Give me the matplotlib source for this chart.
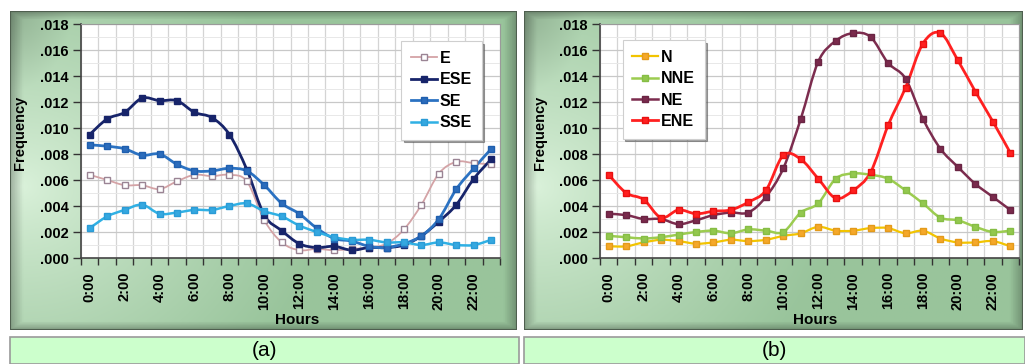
import numpy as np
import matplotlib.pyplot as plt
import matplotlib.patches as patches
from matplotlib.path import Path
from matplotlib.lines import Line2D
from matplotlib.ticker import FuncFormatter, MultipleLocator

plt.rcParams['font.family'] = ['Liberation Sans', 'DejaVu Sans']

hours = np.arange(24)
hour_labels = ['%d:00' % h for h in range(0, 24, 2)]

# panel (a)
e_vals = [0.0064, 0.0060, 0.0056, 0.0056, 0.0053, 0.0059, 0.0064, 0.0063, 0.0064, 0.0059, 0.0029, 0.0012,
          0.0006, 0.0007, 0.0006, 0.0007, 0.0008, 0.0011, 0.0022, 0.0041, 0.0065, 0.0074, 0.0073, 0.0072]
ese_vals = [0.0095, 0.0107, 0.0112, 0.0123, 0.0121, 0.0121, 0.0112, 0.0108, 0.0095, 0.0068, 0.0033, 0.0021,
            0.0011, 0.0008, 0.0009, 0.0006, 0.0008, 0.0008, 0.0010, 0.0017, 0.0028, 0.0041, 0.0061, 0.0076]
se_vals = [0.0087, 0.0086, 0.0084, 0.0079, 0.0080, 0.0072, 0.0067, 0.0067, 0.0069, 0.0067, 0.0056, 0.0042,
           0.0034, 0.0023, 0.0015, 0.0013, 0.0009, 0.0008, 0.0011, 0.0017, 0.0030, 0.0053, 0.0069, 0.0084]
sse_vals = [0.0023, 0.0032, 0.0037, 0.0041, 0.0034, 0.0035, 0.0037, 0.0037, 0.0040, 0.0042, 0.0036, 0.0032,
            0.0025, 0.0020, 0.0016, 0.0014, 0.0014, 0.0012, 0.0012, 0.0010, 0.0012, 0.0010, 0.0010, 0.0014]

# panel (b)
n_vals = [0.0009, 0.0009, 0.0012, 0.0014, 0.0013, 0.0011, 0.0012, 0.0014, 0.0013, 0.0014, 0.0017, 0.0019,
          0.0024, 0.0021, 0.0021, 0.0023, 0.0023, 0.0019, 0.0021, 0.0015, 0.0012, 0.0012, 0.0013, 0.0009]
nne_vals = [0.0017, 0.0016, 0.0015, 0.0016, 0.0018, 0.0020, 0.0021, 0.0019, 0.0022, 0.0021, 0.0020, 0.0035,
            0.0042, 0.0061, 0.0065, 0.0064, 0.0061, 0.0052, 0.0042, 0.0031, 0.0029, 0.0024, 0.0020, 0.0021]
ne_vals = [0.0034, 0.0033, 0.0030, 0.0030, 0.0026, 0.0029, 0.0033, 0.0035, 0.0035, 0.0047, 0.0069, 0.0107,
           0.0151, 0.0167, 0.0173, 0.0170, 0.0150, 0.0138, 0.0107, 0.0084, 0.0070, 0.0057, 0.0047, 0.0037]
ene_vals = [0.0064, 0.0050, 0.0045, 0.0031, 0.0037, 0.0034, 0.0036, 0.0037, 0.0043, 0.0052, 0.0079, 0.0076,
            0.0061, 0.0046, 0.0052, 0.0066, 0.0102, 0.0131, 0.0165, 0.0173, 0.0152, 0.0128, 0.0105, 0.0081]

series_a = [
    ('E', e_vals, '#d4a3a6', '#9a8494', 'white', 1.3),
    ('ESE', ese_vals, '#17246a', '#17246a', '#17246a', 2.0),
    ('SE', se_vals, '#2b72c2', '#1f5fae', '#2b6cbc', 2.0),
    ('SSE', sse_vals, '#2fb0e4', '#2a9bd6', '#35a8e0', 1.8),
]
series_b = [
    ('N', n_vals, '#f2c400', '#e49a1a', '#f5a82a', 1.6),
    ('NNE', nne_vals, '#9ccc50', '#86bd45', '#93c84e', 1.8),
    ('NE', ne_vals, '#7c2c4e', '#6a2443', '#7a2a4c', 1.8),
    ('ENE', ene_vals, '#ff2020', '#e81010', '#ff2020', 2.0),
]

W, H = 1025, 364
fig = plt.figure(figsize=(W / 100, H / 100), dpi=100)


def px(x0, y0, x1, y1):
    return [x0 / W, 1 - y1 / H, (x1 - x0) / W, (y1 - y0) / H]


def smooth_path(x, y):
    # Catmull-Rom style cubic Bezier through every point
    pts = np.column_stack([x, y]).astype(float)
    n = len(pts)
    verts = [pts[0]]
    codes = [Path.MOVETO]
    for i in range(n - 1):
        p0 = pts[max(i - 1, 0)]
        p1 = pts[i]
        p2 = pts[i + 1]
        p3 = pts[min(i + 2, n - 1)]
        c1 = p1 + (p2 - p0) / 6
        c2 = p2 - (p3 - p1) / 6
        verts += [c1, c2, p2]
        codes += [Path.CURVE4] * 3
    return Path(verts, codes)


def frame_background(rect):
    fax = fig.add_axes(rect)
    gx, gy = np.meshgrid(np.linspace(0, 1, 300), np.linspace(0, 1, 200))
    d = np.sqrt(((gx - 0.02) / 0.6) ** 2 + ((gy - 0.55) / 0.8) ** 2)
    t = np.clip(d, 0, 1) ** 0.8
    light = np.array([0.86, 0.95, 0.86])
    dark = np.array([0.60, 0.77, 0.61])
    img = light * (1 - t[..., None]) + dark * t[..., None]
    # darker top-left corner
    corner = np.clip(1 - np.sqrt((gx / 0.12) ** 2 + (gy / 0.25) ** 2), 0, 1)[..., None]
    img = img * (1 - 0.15 * corner)
    # darker rim along the edges
    edge = np.minimum.reduce([gx, 1 - gx, gy, 1 - gy])
    rim = np.clip(1 - edge / 0.025, 0, 1)[..., None]
    img = img * (1 - 0.25 * rim)
    fax.imshow(img, aspect='auto', extent=[0, 1, 0, 1], origin='upper')
    fax.add_patch(patches.Rectangle((0, 0), 1, 1, transform=fax.transAxes, fill=False,
                                    edgecolor='#4f5f4f', linewidth=1.5))
    fax.set_xlim(0, 1)
    fax.set_ylim(0, 1)
    fax.axis('off')
    return fax


def label_box(x0, x1, text):
    fig.patches.append(patches.Rectangle((x0 / W, 0), (x1 - x0) / W, (H - 337) / H,
                                         transform=fig.transFigure, facecolor='#ccffcc',
                                         edgecolor='#9a9a9a', linewidth=1.2))
    fig.text((x0 + x1) / 2 / W, 1 - 350 / H, text, ha='center', va='center', fontsize=15)


def draw_panel(rect, series, legend_loc, legend_anchor):
    ax = fig.add_axes(rect)
    ax.set_zorder(2)
    ax.set_facecolor('white')
    for name, vals, lc, mec, mfc, lw in series:
        ax.add_patch(patches.PathPatch(smooth_path(hours, vals), fill=False, edgecolor=lc,
                                       linewidth=lw, zorder=3))
        ax.plot(hours, vals, linestyle='none', marker='s', markersize=5, markeredgecolor=mec,
                markerfacecolor=mfc, markeredgewidth=1, zorder=4)
    ax.set_xlim(-0.5, 23.5)
    ax.set_ylim(0, 0.018)

    ax.set_xticks(np.arange(-0.5, 24, 1))
    ax.set_xticklabels([])
    ax.set_xticks(np.arange(0, 24, 2), minor=True)
    ax.set_xticklabels(hour_labels, minor=True, rotation=90, fontsize=10.5, fontweight='bold')
    ax.tick_params(axis='x', which='major', length=5, width=1, color='#333333', direction='out')
    ax.tick_params(axis='x', which='minor', length=0, pad=10)

    ax.yaxis.set_major_locator(MultipleLocator(0.002))
    ax.yaxis.set_minor_locator(MultipleLocator(0.001))
    ax.yaxis.set_major_formatter(FuncFormatter(lambda v, p: ('%.3f' % v)[1:]))
    ax.tick_params(axis='y', which='major', length=6, width=1, color='#333333', labelsize=10.5, pad=3)
    ax.tick_params(axis='y', which='minor', length=0)
    for lab in ax.get_yticklabels():
        lab.set_fontweight('bold')

    ax.grid(axis='x', which='major', color='#d4d4d4', linewidth=0.9)
    ax.grid(axis='y', which='major', color='#c8c8c8', linewidth=0.9)
    ax.grid(axis='y', which='minor', color='#e8e8e8', linewidth=0.7)
    ax.set_axisbelow(True)

    for side in ['left', 'bottom']:
        ax.spines[side].set_color('#444444')
        ax.spines[side].set_linewidth(1.2)
    for side in ['top', 'right']:
        ax.spines[side].set_color('#9a9a9a')
        ax.spines[side].set_linewidth(0.8)

    handles = [Line2D([], [], color=lc, linewidth=lw, marker='s', markersize=4, markeredgecolor=mec,
                      markerfacecolor=mfc) for name, vals, lc, mec, mfc, lw in series]
    leg = ax.legend(handles, [s[0] for s in series], loc=legend_loc, bbox_to_anchor=legend_anchor,
                    fancybox=False, shadow=True, framealpha=1, edgecolor='#cfcfcf',
                    prop={'weight': 'bold', 'size': 11.5}, handlelength=1.6, handletextpad=0.2,
                    labelspacing=0.4, borderpad=0.6)
    leg.get_frame().set_linewidth(0.8)
    return ax


frame_background(px(10, 11, 517, 330))
frame_background(px(524, 11, 1023, 330))

draw_panel(px(81, 24, 500, 258), series_a, 'upper right', (0.975, 0.96))
draw_panel(px(600, 24, 1019, 258), series_b, 'upper left', (0.035, 0.965))

for x0 in (20, 540):
    fig.text(x0 / W, 1 - 133 / H, 'Frequency', rotation=90, ha='center', va='center',
             fontsize=10.5, fontweight='bold')
for x0 in (297, 815):
    fig.text(x0 / W, 1 - 320 / H, 'Hours', ha='center', va='center', fontsize=11, fontweight='bold')

label_box(10, 519, '(a)')
label_box(524, 1025, '(b)')

fig.savefig('out.png', dpi=100)
